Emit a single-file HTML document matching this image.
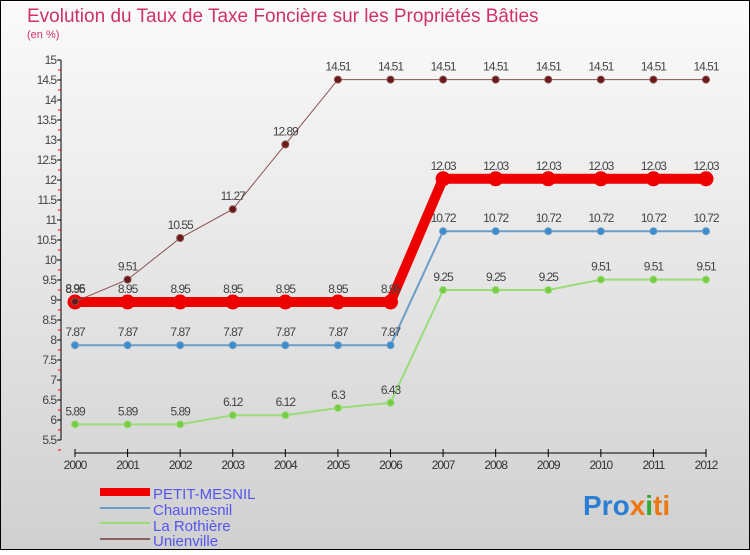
<!DOCTYPE html>
<html><head><meta charset="utf-8"><style>
body{margin:0;width:750px;height:550px;overflow:hidden;font-family:"Liberation Sans",sans-serif}
svg text{font-family:"Liberation Sans",sans-serif}
</style></head><body>
<svg width="750" height="550" xmlns="http://www.w3.org/2000/svg">
<defs><linearGradient id="bg" x1="0" y1="0" x2="0" y2="1"><stop offset="0" stop-color="#fbfbfb"/><stop offset="1" stop-color="#d0d0d0"/></linearGradient></defs>
<rect x="0.5" y="0.5" width="749" height="549" fill="url(#bg)" stroke="#000"/>
<text x="27" y="22" font-size="19" fill="#d0306a">Evolution du Taux de Taxe Foncière sur les Propriétés Bâties</text>
<text x="27" y="38" font-size="11" fill="#d0306a">(en %)</text>
<g id="axes"></g>
<g id="series"></g>
<g>
<rect x="100" y="488" width="50" height="8" fill="#e00"/>
<text x="153" y="499" font-size="15" fill="#5555ee">PETIT-MESNIL</text>
<line x1="100" y1="508" x2="150" y2="508" stroke="#6b9dc8" stroke-width="2"/>
<text x="153" y="515" font-size="15" fill="#5555ee">Chaumesnil</text>
<line x1="100" y1="523" x2="150" y2="523" stroke="#99dd77" stroke-width="2"/>
<text x="153" y="531" font-size="15" fill="#5555ee">La Rothière</text>
<line x1="100" y1="539" x2="150" y2="539" stroke="#8b6060" stroke-width="2"/>
<text x="153" y="546" font-size="15" fill="#5555ee">Unienville</text>
</g>
<text x="583" y="515" font-size="28" font-weight="bold"><tspan fill="#2a7fd4">Pro</tspan><tspan fill="#ee7711">x</tspan><tspan fill="#33aa33">i</tspan><tspan fill="#ee7711">ti</tspan></text>
</svg>
<script>
const years=[2000,2001,2002,2003,2004,2005,2006,2007,2008,2009,2010,2011,2012];
const yTicks=[5.5,6,6.5,7,7.5,8,8.5,9,9.5,10,10.5,11,11.5,12,12.5,13,13.5,14,14.5,15];
const petitMesnil=[8.95,8.95,8.95,8.95,8.95,8.95,8.95,12.03,12.03,12.03,12.03,12.03,12.03];
const chaumesnil=[7.87,7.87,7.87,7.87,7.87,7.87,7.87,10.72,10.72,10.72,10.72,10.72,10.72];
const laRothiere=[5.89,5.89,5.89,6.12,6.12,6.3,6.43,9.25,9.25,9.25,9.51,9.51,9.51];
const unienville=[8.96,9.51,10.55,11.27,12.89,14.51,14.51,14.51,14.51,14.51,14.51,14.51,14.51];
const NS="http://www.w3.org/2000/svg";
const xS=i=>75+i*(706-75)/(years.length-1);
const yS=v=>60+(15-v)*40;
function mk(t,a,p){const e=document.createElementNS(NS,t);for(const k in a)e.setAttribute(k,a[k]);p.appendChild(e);return e;}
const ax=document.getElementById('axes');
let l=mk('line',{x1:61,y1:yS(15),x2:61,y2:yS(5.5),stroke:'#000'},ax);


yTicks.forEach(v=>{
 const y=yS(v);
 mk('line',{x1:57,y1:y,x2:61,y2:y,stroke:'#000'},ax);
 mk('line',{x1:58,y1:y+10,x2:61,y2:y+10,stroke:'#e00'},ax);
 const t=mk('text',{x:56,y:y+4,'font-size':12,fill:'#444','text-anchor':'end','letter-spacing':'-1'},ax);
 t.textContent=String(v);
 
 
});
l=mk('line',{x1:xS(0),y1:453,x2:xS(years.length-1),y2:453,stroke:'#000'},ax);


years.forEach((yr,i)=>{
 const x=xS(i);
 mk('line',{x1:x,y1:449,x2:x,y2:457,stroke:'#000'},ax);
 const t=mk('text',{x:x,y:469,'font-size':12,fill:'#333','text-anchor':'middle','letter-spacing':'-1'},ax);
 t.textContent=yr;
 
 
});
const sg=document.getElementById('series');
function draw(vals,color,w,r,dot,name){
 const g=mk('g',{},sg);
 
 
 const p=mk('polyline',{points:vals.map((v,i)=>xS(i)+','+yS(v)).join(' '),fill:'none',stroke:color,'stroke-width':w},g);
 
 
 vals.forEach((v,i)=>{
  const c=mk('circle',{cx:xS(i),cy:yS(v),r:r,fill:dot,stroke:color,'stroke-width':1},g);
  
  
  const t=mk('text',{x:xS(i),y:yS(v)-9,'font-size':12,fill:'#444','text-anchor':'middle','letter-spacing':'-1'},g);
  t.textContent=String(v);
  
  
 });
}
draw(laRothiere,'#99dd77',2,3.5,'#77cc44','la-rothiere');
draw(chaumesnil,'#6b9dc8',2,3.5,'#3c8ccc','chaumesnil');
draw(petitMesnil,'#ee0000',10,7,'#ee0000','petit-mesnil');
draw(unienville,'#8b5050',1,3.5,'#6a1a1a','unienville');
</script>
</body></html>
